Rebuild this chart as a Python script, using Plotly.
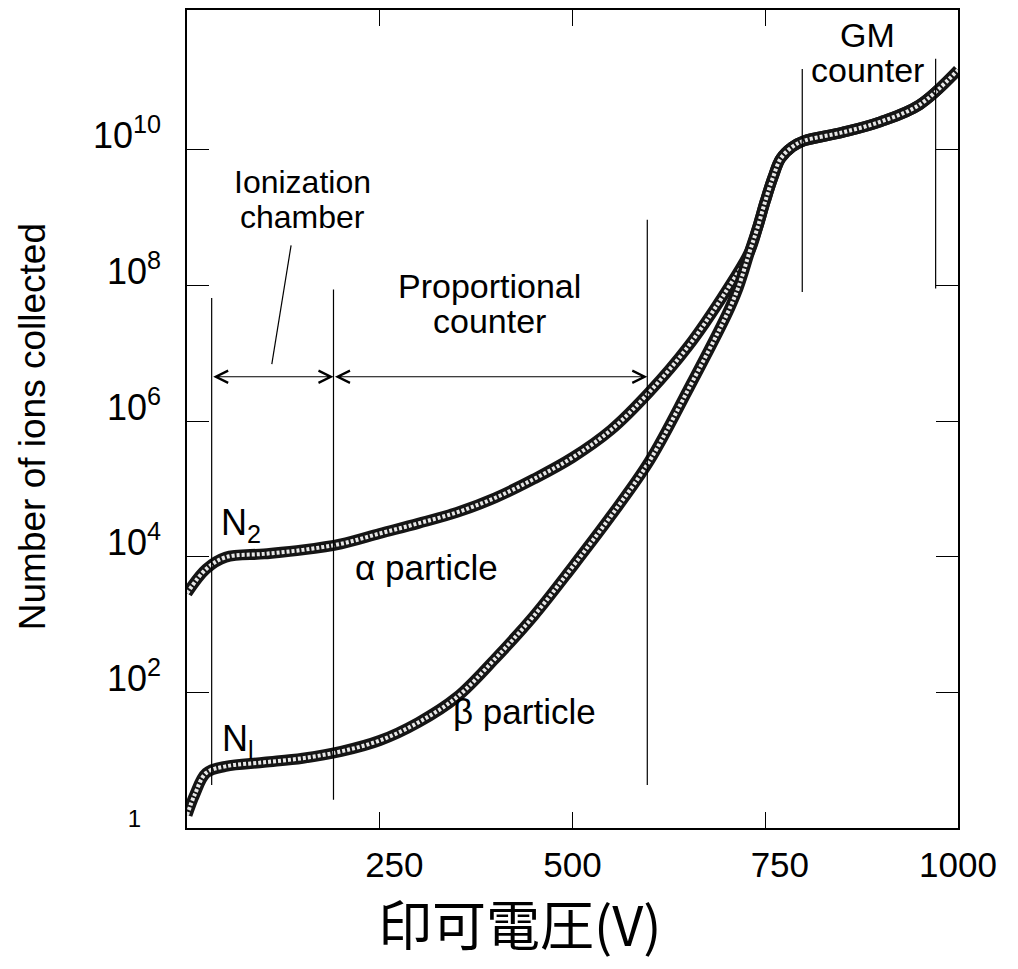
import math
import plotly.graph_objects as go

# ---------------- data ----------------
voltage_alpha = [0, 25, 50, 100, 150, 200, 250, 300, 350, 400, 450, 500, 550, 600, 650, 700,
                 730, 740, 750, 760, 770, 785, 800, 850, 900, 950, 1000]
ions_alpha = [2.9e3, 6.6e3, 9.8e3, 1.1e4, 1.26e4, 1.55e4, 2.2e4, 3.1e4, 4.5e4, 7.4e4,
              1.4e5, 2.9e5, 7.4e5, 2.7e6, 1.26e7, 8.5e7,
              3.2e8, 7.1e8, 1.74e9, 3.9e9, 7.4e9, 1.1e10, 1.35e10, 1.8e10, 2.6e10, 4.6e10, 1.5e11]

voltage_beta = [0, 10, 25, 50, 100, 150, 200, 250, 300, 350, 400, 450, 500, 550, 600, 650,
                700, 715, 730, 740, 750, 760, 770, 785, 800, 850, 900, 950, 1000]
ions_beta = [1.55, 3.1, 6.5, 8.1, 9.3, 10.7, 13.5, 19.5, 36, 85, 316, 1.35e3, 7.1e3, 4.0e4,
             2.6e5, 2.9e6, 3.7e7, 9.3e7,
             3.2e8, 7.1e8, 1.74e9, 3.9e9, 7.4e9, 1.1e10, 1.35e10, 1.8e10, 2.6e10, 4.6e10, 1.5e11]

# region boundary lines
boundary_voltage = [32, 190, 597, 798, 971]
boundary_top = [6.5e7, 8.7e7, 9.3e8, 1.55e11, 2.2e11]
boundary_bottom = [4.3, 2.6, 4.3, 8.0e7, 9.0e7]

# pointer from "Ionization chamber" label
pointer_voltage = [135, 110]
pointer_ions = [3.9e8, 6.9e6]

# range arrows
arrow_level = 4.5e6
ion_chamber_range = [32, 190]
proportional_range = [190, 597]

NB = "\u00a0"
x_tick_vals = [250, 500, 750, 1000]
x_tick_text = [NB * 3 + "250", "500", NB * 3 + "750", "1000"]
y_tick_vals = [1, 1e2, 1e4, 1e6, 1e8, 1e10]
y_tick_text = ["<span style='font-size:24px'>1" + NB * 3 + "</span>",
               "10<sup>2</sup>", "10<sup>4</sup>", "10<sup>6</sup>",
               "10<sup>8</sup>", "10<sup>10</sup>"]

# ---------------- figure ----------------
TEXT_FONT = "Liberation Sans, Arial, Helvetica, sans-serif"
TICK_FONT = "Liberation Sans, Arial, Helvetica, sans-serif"

fig = go.Figure()


def band(x, y):
    fig.add_trace(go.Scatter(x=x, y=y, mode="lines",
                             line=dict(color="#151515", width=11, shape="spline", smoothing=1.0),
                             hoverinfo="skip", showlegend=False))
    fig.add_trace(go.Scatter(x=x, y=y, mode="lines",
                             line=dict(color="#e8e8e8", width=4, shape="spline", smoothing=1.0,
                                       dash="3px,2px"),
                             hoverinfo="skip", showlegend=False))


band(voltage_alpha, ions_alpha)
band(voltage_beta, ions_beta)

# boundary lines
bx, by = [], []
for v, t, b in zip(boundary_voltage, boundary_top, boundary_bottom):
    bx += [v, v, None]
    by += [b, t, None]
fig.add_trace(go.Scatter(x=bx, y=by, mode="lines", line=dict(color="black", width=1.2),
                         hoverinfo="skip", showlegend=False))

fig.add_trace(go.Scatter(x=pointer_voltage, y=pointer_ions, mode="lines",
                         line=dict(color="black", width=1.2), hoverinfo="skip", showlegend=False))

annotations = []
for rng in (ion_chamber_range, proportional_range):
    annotations.append(dict(x=rng[1], y=math.log10(arrow_level), ax=rng[0], ay=math.log10(arrow_level),
                            xref="x", yref="y", axref="x", ayref="y", text="", showarrow=True,
                            arrowhead=5, startarrowhead=5, arrowside="end+start",
                            arrowsize=2.2, startarrowsize=2.2, arrowwidth=1.1, arrowcolor="black",
                            standoff=0, startstandoff=0))

labels = [
    ("Ionization", 150, 9.53, 32),
    ("chamber", 150, 9.01, 32),
    ("Proportional", 392, 7.99, 34),
    ("counter", 392, 7.47, 34),
    ("GM", 883, 11.69, 34),
    ("counter", 883, 11.18, 34),
    ("α particle", 310, 3.84, 35),
    ("β particle", 438, 1.72, 35),
]
for txt, x, ly, sz in labels:
    annotations.append(dict(x=x, y=ly, xref="x", yref="y", text=txt, showarrow=False,
                            font=dict(family=TEXT_FONT, size=sz, color="black"),
                            xanchor="center", yanchor="middle"))

for txt, x, ly in [("N<sub>2</sub>", 70, 4.46), ("N<sub>l</sub>", 66, 1.29)]:
    annotations.append(dict(x=x, y=ly, xref="x", yref="y", text=txt, showarrow=False,
                            font=dict(family=TEXT_FONT, size=36, color="black"),
                            xanchor="center", yanchor="middle"))

# axis titles
annotations.append(dict(x=0.432, y=-0.115, xref="paper", yref="paper", text="印可電圧(V)",
                        showarrow=False, xanchor="center", yanchor="middle",
                        font=dict(family="Noto Sans CJK JP, sans-serif", size=54, color="black")))
annotations.append(dict(x=-0.201, y=0.49, xref="paper", yref="paper",
                        text="Number of ions collected", textangle=-90,
                        showarrow=False, xanchor="center", yanchor="middle",
                        font=dict(family=TEXT_FONT, size=37, color="black")))

fig.update_layout(
    width=1018, height=969,
    margin=dict(l=179, r=68, t=0, b=149),
    paper_bgcolor="white", plot_bgcolor="white",
    annotations=annotations,
    showlegend=False,
)
fig.update_xaxes(range=[0, 1000], showgrid=False, zeroline=False,
                 showline=True, linecolor="black", linewidth=1.5, mirror="ticks",
                 ticks="inside", ticklen=16, tickwidth=1.2, tickcolor="black",
                 tickvals=x_tick_vals, ticktext=x_tick_text, ticklabelstandoff=5,
                 tickfont=dict(family=TICK_FONT, size=35, color="black"))
fig.update_yaxes(type="log", range=[0, 12.06], showgrid=False, zeroline=False,
                 showline=True, linecolor="black", linewidth=1.5, mirror="ticks",
                 ticks="inside", ticklen=22, tickwidth=1.2, tickcolor="black",
                 tickvals=y_tick_vals, ticktext=y_tick_text,
                 ticklabelstandoff=17, ticklabelshift=-14,
                 tickfont=dict(family=TICK_FONT, size=36, color="black"))

fig.write_html("out.html")
